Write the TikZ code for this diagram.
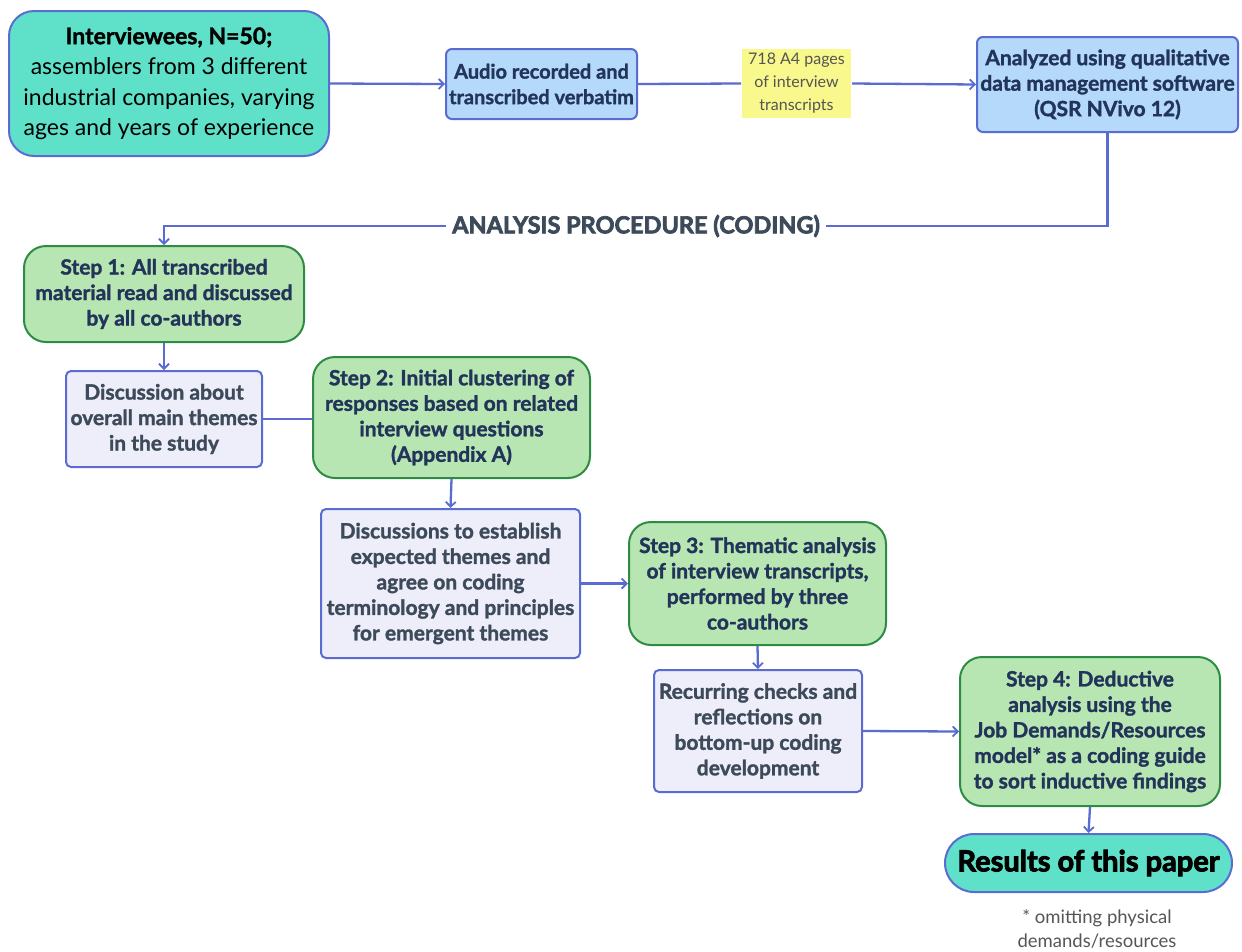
\documentclass[tikz,border=0pt]{standalone}
\usepackage{fontspec}
\setmainfont{Lato}[BoldFeatures={FakeBold=1.5}]
\newfontfamily\heavyfont{Lato}[UprightFont=*-Bold, FakeBold=3]
\usetikzlibrary{arrows.meta}
\definecolor{teal}{HTML}{5FE0C9}
\definecolor{bluefill}{HTML}{B4D9FA}
\definecolor{greenfill}{HTML}{B8E6B2}
\definecolor{greenline}{HTML}{2E8B44}
\definecolor{lavfill}{HTML}{EDEEF9}
\definecolor{edgeblue}{HTML}{5A6BD2}
\definecolor{navytext}{HTML}{22345A}
\definecolor{slatetext}{HTML}{3D4A5A}
\definecolor{yellowfill}{HTML}{F8F88C}
\definecolor{graytext}{HTML}{555555}
\tikzset{
  box/.style={draw, line width=2pt, align=center, inner sep=0pt},
  tealbox/.style={box, fill=teal, draw=edgeblue, text=black},
  bluebox/.style={box, fill=bluefill, draw=edgeblue, rounded corners=6pt, text=navytext, font=\bfseries\fontsize{20}{25.5}\selectfont},
  stepbox/.style={box, fill=greenfill, draw=greenline, rounded corners=22pt, text=navytext, font=\bfseries\fontsize{21}{25.5}\selectfont},
  discbox/.style={box, fill=lavfill, draw=edgeblue, rounded corners=5pt, text=slatetext, font=\bfseries\fontsize{21}{25.5}\selectfont},
  conn/.style={draw=edgeblue, line width=2.3pt},
  arr/.style={conn, -{Straight Barb[length=5pt,width=10pt,line width=1.8pt]}},
}
\begin{document}
\begin{tikzpicture}[x=1pt,y=-1pt]
\useasboundingbox (0,0) rectangle (1242,951);
% top row
\node[tealbox, rounded corners=25pt, minimum width=320pt, minimum height=145pt, font=\fontsize{23}{30.5}\selectfont] (iv) at (169,83.5)
  {{\bfseries Interviewees, N=50;}\\assemblers from 3 different\\industrial companies, varying\\ages and years of experience};
\node[bluebox, minimum width=191pt, minimum height=70pt] (audio) at (541.5,84)
  {Audio recorded and\\transcribed verbatim};
\node[box, draw=none, fill=yellowfill, text=graytext, minimum width=109pt, minimum height=69pt, font=\fontsize{16}{23}\selectfont] (pages) at (796.5,83.5)
  {718 A4 pages\\of interview\\transcripts};
\node[bluebox, minimum width=261pt, minimum height=95pt, font=\bfseries\fontsize{21}{25.5}\selectfont] (nvivo) at (1107.5,84.5)
  {Analyzed using qualitative\\data management software\\(QSR NVivo 12)};
% label
\node[text=slatetext, font=\heavyfont\fontsize{23.5}{26}\selectfont, inner xsep=6pt, inner ysep=2pt] (proc) at (636,226)
  {ANALYSIS PROCEDURE (CODING)};
% steps
\node[stepbox, minimum width=280pt, minimum height=96pt] (s1) at (164,294)
  {Step 1: All transcribed\\material read and discussed\\by all co-authors};
\node[discbox, minimum width=196pt, minimum height=96pt] (d1) at (164,419)
  {Discussion about\\overall main themes\\in the study};
\node[stepbox, minimum width=277pt, minimum height=121pt] (s2) at (451.5,417.5)
  {Step 2: Initial clustering of\\responses based on related\\interview questions\\(Appendix A)};
\node[discbox, minimum width=259pt, minimum height=149pt] (d2) at (450.5,583.5)
  {Discussions to establish\\expected themes and\\agree on coding\\terminology and principles\\for emergent themes};
\node[stepbox, minimum width=257pt, minimum height=123pt] (s3) at (757.5,583.5)
  {Step 3: Thematic analysis\\of interview transcripts,\\performed by three\\co-authors};
\node[discbox, minimum width=208pt, minimum height=122pt] (d3) at (758,731)
  {Recurring checks and\\reflections on\\bottom-up coding\\development};
\node[stepbox, minimum width=260pt, minimum height=149pt] (s4) at (1090,731.5)
  {Step 4: Deductive\\analysis using the\\Job Demands/Resources\\model* as a coding guide\\to sort inductive findings};
\node[tealbox, rounded corners=29pt, minimum width=287pt, minimum height=58pt, font=\heavyfont\fontsize{29}{34}\selectfont] (res) at (1088.5,863)
  {Results of this paper};
\node[text=graytext, align=center, font=\fontsize{18.5}{24}\selectfont] (foot) at (1097,929)
  {* omitting physical\\demands/resources};
% connectors
\draw[arr] (iv.east) -- (audio.west);
\draw[conn] (audio.east) -- (pages.west);
\draw[arr] (pages.east) -- (nvivo.west);
\draw[conn] (nvivo.south) |- (proc.east);
\draw[arr] (proc.west) -| (s1.north);
\draw[arr] (s1.south) -- (d1.north);
\draw[conn] (d1.east) -- (d1.east -| s2.west);
\draw[arr] (s2.south) -- (d2.north);
\draw[arr] (d2.east) -- (s3.west);
\draw[arr] (s3.south) -- (d3.north);
\draw[arr] (d3.east) -- (s4.west);
\draw[arr] (s4.south) -- (res.north);
\end{tikzpicture}
\end{document}
